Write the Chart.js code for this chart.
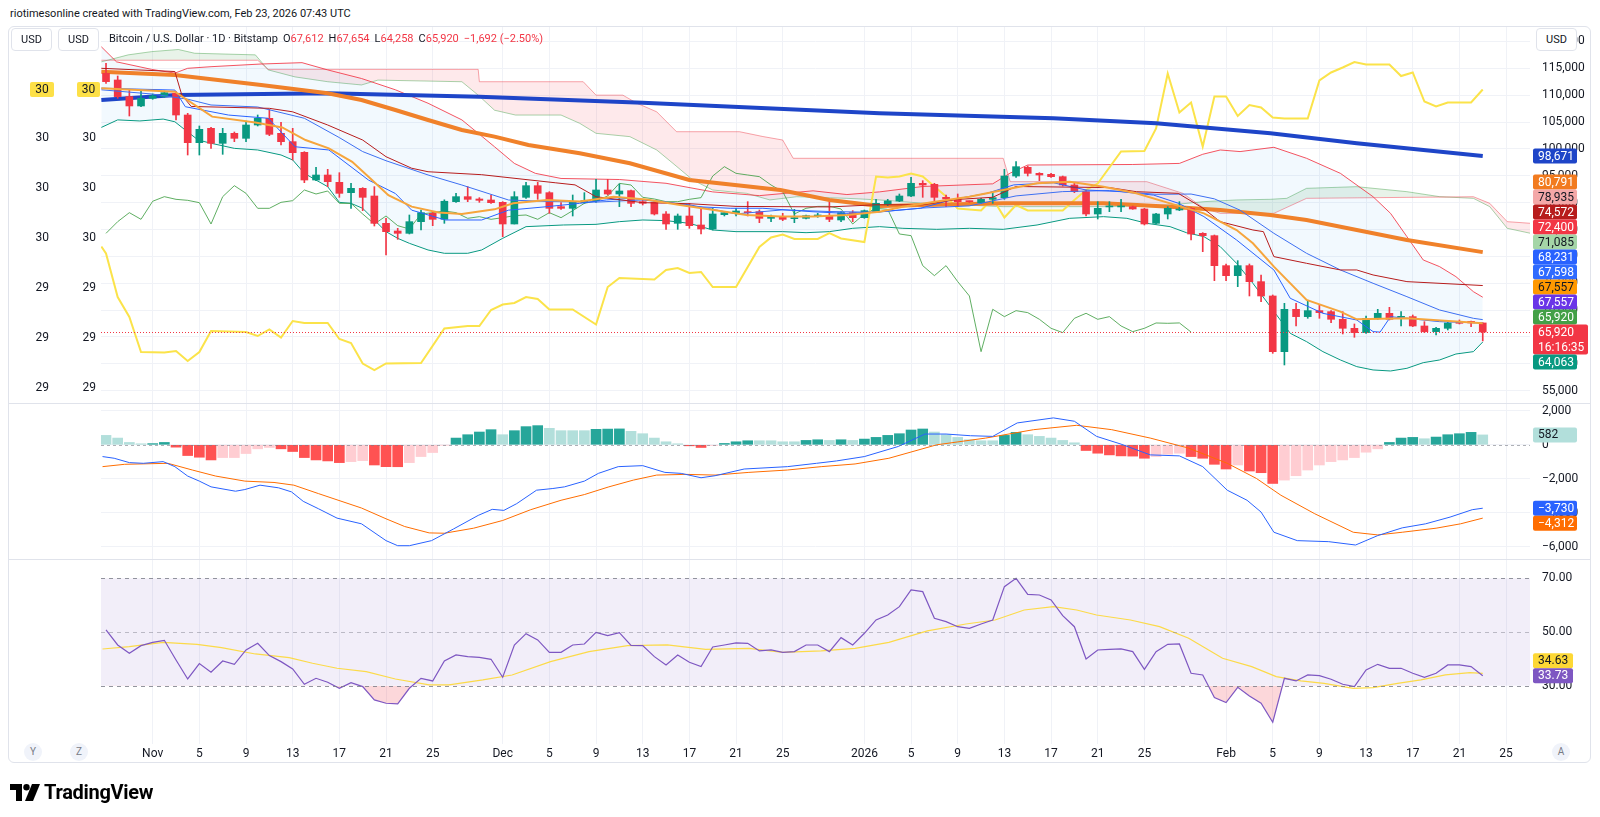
<!DOCTYPE html>
<html>
<head>
<meta charset="utf-8">
<title>Bitcoin / U.S. Dollar 1D</title>
<script src="https://cdn.jsdelivr.net/npm/chart.js@4.4.1/dist/chart.umd.min.js"></script>
<style>
  html, body { margin: 0; padding: 0; background: #fff; }
  body { width: 1600px; height: 817px; position: relative; overflow: hidden;
         font-family: Roboto, "Liberation Sans", Arial, sans-serif; color: #131722; }
  .frame { position: absolute; left: 8px; top: 26px; width: 1583px; height: 737px;
           border: 1px solid #E0E3EB; border-radius: 6px; box-sizing: border-box; }
  canvas { position: absolute; left: 0; }
  #priceCanvas { top: 27px; }
  #macdCanvas { top: 403px; }
  #rsiCanvas { top: 559px; }
  .sep { position: absolute; left: 9px; width: 1581px; height: 1px; background: #E0E3EB; }
  .header { position: absolute; left: 10px; top: 7px; font-size: 11px; }
  .usd { position: absolute; top: 28px; height: 23px; width: 41px; border: 1px solid #E0E3EB; border-radius: 4px;
         background: #fff; font-size: 11px; line-height: 21px; text-align: center; box-sizing: border-box; }
  .legend { position: absolute; left: 109px; top: 32px; font-size: 11px; white-space: nowrap; }
  .legend .v { color: #F23645; }
  .legend span { margin-left: 5px; }
  .btn { position: absolute; top: 743px; width: 18px; height: 18px; border-radius: 50%; background: #F0F3FA;
         color: #787B86; font-size: 10px; line-height: 18px; text-align: center; }
  .logo { position: absolute; left: 10px; top: 780px; display: flex; align-items: center; gap: 4px;
          font-size: 20px; font-weight: 700; letter-spacing: -0.3px; color: #000; }
</style>
</head>
<body>
<div class="frame"></div>
<canvas id="priceCanvas" width="1600" height="376"></canvas>
<canvas id="macdCanvas" width="1600" height="156"></canvas>
<canvas id="rsiCanvas" width="1600" height="205"></canvas>
<div class="sep" style="top:403px"></div>
<div class="sep" style="top:559px"></div>

<div class="header">riotimesonline created with TradingView.com, Feb 23, 2026 07:43 UTC</div>
<div class="usd" style="left:11px">USD</div>
<div class="usd" style="left:58px">USD</div>
<div class="usd" style="left:1536px">USD</div>
<div class="legend" id="legend"></div>
<div class="btn" style="left:24px">Y</div>
<div class="btn" style="left:70px">Z</div>
<div class="btn" style="left:1552px">A</div>
<div class="logo">
  <svg width="30" height="17" viewBox="0 0 30 17"><path d="M0 0h12v17H6V6H0z" fill="#000"/><circle cx="16.5" cy="3.2" r="3.2" fill="#000"/><path d="M22 0h8l-7 17h-8z" fill="#000"/></svg>
  <span>TradingView</span>
</div>

<script>
// ---------- data (day index 0 = Oct 28, 2025; 118 = Feb 23, 2026) ----------
const opens = [114067,112827,109727,107991,109417,109727,110343,106309,101161,103829,
  101037,102898,101968,104449,105690,102898,101347,99362,94211,95141,
  93776,91856,92661,91236,86149,84722,84288,86459,88010,86894,
  90181,91112,90677,90490,90057,86026,90988,93156,91856,89251,
  88941,89996,90367,92352,91608,92228,90181,90057,87886,86149,
  87514,85839,85095,87762,88010,88320,88320,87080,87390,87018,
  87080,87514,87576,86770,88134,87204,88320,89686,90306,91236,
  93590,93404,90988,90802,90306,89996,90615,90925,94955,96568,
  95451,95265,94832,93280,92042,87886,89200,89200,89251,88817,
  86149,87886,88630,88941,84288,83855,78273,76412,78273,75296,
  72629,62268,70148,68784,69900,69714,68288,66613,65807,68474,
  69404,68660,68784,67046,65992,66613,67852,67900,67612];
const highs = [115927,113571,110963,110963,110219,110777,110653,106619,104263,104015,
  103829,103147,105193,106310,107365,104945,103829,99486,96568,96196,
  95575,93590,92786,92972,87080,85219,87700,88630,88320,90522,
  91732,92972,90925,91422,90181,92042,93776,93776,92042,89996,
  91422,91856,94335,94335,93466,92352,90492,90181,88320,87886,
  89872,88941,88941,88320,88941,90181,88630,87700,88010,88754,
  87700,88010,90057,88320,88506,88630,90615,90615,91608,94707,
  94087,93590,91422,91608,90306,90802,92042,96196,97626,96817,
  95575,95451,94955,93590,92352,90181,90181,90615,89375,88941,
  88010,89251,90181,89065,84412,83979,78583,79203,78583,76536,
  72815,71265,71265,71761,70954,69900,69714,67418,68908,70148,
  70520,69714,69094,67852,66799,67728,68164,67950,67654];
const lows = [112207,109417,106123,107867,109230,109603,105379,98866,98866,100107,
  98990,101347,101347,104263,102464,100727,97936,93714,94087,92975,
  90988,88941,88508,85653,80258,83172,84164,84908,85715,86149,
  90057,90181,90057,89874,83669,86026,90802,90615,88010,88755,
  87514,89872,90057,91422,89251,89251,89561,87700,85033,85033,
  85219,84164,84908,87514,87514,87514,86273,86459,86645,86273,
  86956,87266,86459,86459,86459,87080,88134,89438,90181,91112,
  90988,90181,89251,89251,90057,89872,89872,90615,94707,94955,
  94087,94707,93094,91856,87514,86956,88320,88320,88755,85839,
  86026,86956,88506,83048,80878,75482,75482,74366,72629,71575,
  61958,59788,67046,68474,68474,67666,65559,64938,65683,68288,
  68164,67046,66923,65807,65373,66303,67418,66923,64258];
const closes = [112517,109727,107991,109417,109850,110467,106309,101161,103643,101037,
  102898,101968,104449,105690,102712,101347,99300,94211,95141,93900,
  91732,92661,90988,86149,84598,84288,86459,88134,86894,90255,
  91112,90615,90430,89992,86026,91112,93156,91732,88941,88941,
  90057,90367,92352,91608,92166,89872,89872,87886,86026,87514,
  85715,85095,87886,88134,88444,88134,87080,87390,86894,87204,
  87576,87700,86894,88134,87204,88506,89872,90306,91236,93590,
  93280,90988,90677,90181,90181,90615,90925,94955,96693,95451,
  95141,94832,93280,92042,87886,88941,89300,89320,88817,86026,
  87886,88941,88754,84164,83855,78273,76412,78273,75296,72629,
  62268,70148,68784,69900,69528,68288,66613,65807,68474,69404,
  68288,68784,67046,65992,66613,67604,67542,67612,65920];

// Ichimoku lagging span, days 0..93
const laggingSpan = [84288,86459,88134,86894,90255,91112,90615,90430,89992,86026,
  91112,93156,91732,88941,88941,90057,90367,92352,91608,92166,
  89872,89872,87886,86026,87514,85715,85095,87886,88134,88444,
  88134,87080,87390,86894,87204,87576,87700,86894,88134,87204,
  88506,89872,90306,91236,93590,93280,90988,90677,90181,90181,
  90615,90925,94955,96693,95451,95141,94832,93280,92042,87886,
  88941,89300,89320,88817,86026,87886,88941,88754,84164,83855,
  78273,76412,78273,75296,72629,62268,70148,68784,69900,69528,
  68288,66613,65807,68474,69404,68288,68784,67046,65992,66613,
  67604,67542,67612,65920];

// [day, value] readings of the overlay lines
const ema200 = [[-0.4,109100],[6,110030],[19,110340],[32,109720],[46,108600],[66.3,106620],[81.2,105690],[90,104760],[99.8,102900],[107.2,101040],[118,98671]];
const ema50 = [[-0.4,114370],[5.9,113750],[13.3,111890],[19,110340],[21.9,109100],[24.8,107240],[27.6,105380],[30.5,103520],[33.3,102280],[36.2,100730],[40.6,99180],[44.9,97320],[50,94210],[57.8,92350],[62,90490],[66.3,89380],[76.9,89870],[85.5,89870],[91.2,89250],[95.5,88630],[99.8,87700],[102.9,86770],[111.5,83050],[118,80791]];
const emaFast = [[-0.4,111300],[5.9,110650],[9.1,106000],[12.8,104900],[15.1,104000],[17.1,101650],[19.1,100100],[21.1,97600],[22.8,94200],[24.2,91400],[26.2,89250],[28.5,88150],[30.5,87900],[33.3,88750],[34.9,89870],[37.8,90500],[40.6,90200],[43.5,91100],[46.3,90600],[49.2,89550],[52.1,88650],[54.9,87700],[57.8,87400],[60.6,87400],[63.5,87700],[66.3,88300],[68.3,89250],[71.2,90200],[74,91100],[76.9,92350],[79.8,93600],[82.6,93900],[85.5,92970],[88.3,91730],[91.2,89870],[94.1,88000],[95.5,86460],[96.9,84900],[98.3,82430],[100.1,78090],[102.9,71880],[105.8,69710],[107.2,68290],[111.5,68480],[118,67557]];
const tenkan = [[-0.4,111300],[5.9,110950],[6.8,107850],[10.5,106300],[13.9,105700],[16.2,100400],[19.1,99800],[22.5,94200],[24.8,91700],[26.2,88600],[29.1,86770],[32.2,86770],[34.5,88600],[37.8,89250],[40.6,89870],[42.9,90500],[44.9,90800],[47.7,90200],[50.6,89250],[53.5,88950],[56.3,88950],[60.6,88300],[63.5,88000],[66.3,88300],[69.8,88950],[72.6,90600],[75.5,91730],[77.8,93300],[81.2,93700],[84,92350],[86.9,92050],[89.8,91400],[91.9,89900],[94.1,87400],[96.9,83050],[100.1,77470],[101.5,72200],[104.3,69400],[107.2,68160],[108.6,66000],[109.2,65900],[110.1,68780],[114.3,67850],[118,67598]];
const kijun = [[-0.4,115000],[5.9,114400],[6.5,110000],[7.3,107900],[14,107550],[16,106900],[19,104450],[22,101650],[24,98550],[26.2,96400],[27.6,95750],[32.2,95200],[38.5,93700],[40.2,93300],[42,91100],[46,90000],[50,89800],[54,89300],[62,89200],[66,89600],[70,89600],[73,90600],[76,91000],[78,93000],[86,92800],[88.3,92040],[91.9,91730],[94,89000],[95.5,86460],[98.3,84910],[99.2,84600],[100.1,79950],[102.9,78710],[105.8,77470],[107.2,77470],[108.6,76540],[111.5,75300],[118,74572]];
const bbUpper = [[-0.4,119000],[0.9,116200],[3.9,114800],[5.9,114100],[7,115000],[9,115300],[13.3,115800],[16.8,116050],[19,114700],[21.9,113100],[24.8,111000],[27.6,108500],[30.5,105400],[33.3,100400],[35,97300],[36.8,95450],[39,94500],[44,94300],[48,93600],[52,92000],[56,91300],[60.6,92200],[63.5,91500],[66.3,92000],[70,93000],[76,93500],[77.5,95500],[79,97000],[88,97100],[92,97300],[94,99000],[95.5,99800],[97.2,99500],[100.1,100300],[102.9,98250],[105.8,95450],[108.6,91100],[110.1,88000],[111.5,83670],[112.9,79330],[114.3,78090],[115.7,76230],[117.2,73430],[118,72400]];
const bbBasis = [[-0.4,111000],[4,110200],[7,109250],[9,108170],[13,107800],[17,105700],[20,102100],[22,99500],[24,97800],[27.6,95150],[30.5,93280],[34.5,90490],[38,90200],[42,90100],[46,90500],[50,89600],[54,87900],[58,88650],[62,88350],[66,88200],[70,89000],[74,89400],[78,91250],[82,92050],[86,92250],[90,91550],[93,91600],[95,90700],[97.2,88600],[100.1,84290],[102.9,80570],[105.8,77470],[108.6,74990],[111.5,72500],[114.3,70020],[117.2,68470],[118,68231]];
const bbLower = [[-0.4,104000],[1,105400],[2.9,105200],[4.9,105550],[5.9,105050],[6.8,103500],[7.9,101650],[9,101050],[11,100100],[13,99800],[15,98870],[16,97940],[17,95450],[18,94200],[19,92970],[20,90050],[21,89870],[22,88940],[23,86770],[24,84600],[25,83360],[26,82430],[27.6,81190],[29,80570],[31,80570],[32.2,81190],[34,83360],[36,85530],[39.2,85840],[42,85960],[44,86460],[46,86770],[48,86650],[50,86150],[52,84910],[54,84600],[58,84600],[60,84410],[62,84600],[64,85220],[66.3,85530],[68.3,85220],[71.2,85030],[74,85220],[76.9,85030],[79.8,85840],[82.6,87080],[85.5,87390],[87.5,87080],[89.2,86150],[91.2,85530],[92.6,84410],[94.1,83670],[95.5,81810],[96.9,78710],[98.3,74990],[99.8,70640],[101.5,65680],[102.9,64130],[104.3,62270],[105.8,60720],[107.2,59480],[108.6,58860],[110.1,58670],[111.5,59170],[112.9,60220],[114.3,60720],[115.7,61830],[117.2,62270],[118,64063]];
const spanA = [[-0.4,116200],[1.9,117500],[3.9,118100],[6.2,118500],[7.6,117800],[12.8,117500],[13.9,114700],[16.2,113400],[19,112500],[21.9,111900],[23.3,112800],[30.5,112500],[31.9,110000],[33.3,107200],[35.1,106300],[39,106300],[40.6,104760],[42,102900],[44.9,102280],[47.2,99800],[48.6,97300],[50.3,94200],[52,92350],[54.9,91730],[56.9,90500],[59.2,91100],[63.5,90800],[66.3,90500],[70,89900],[76.9,89250],[85.5,89250],[91.2,89560],[94.1,90180],[96.9,90500],[99.8,90620],[101.2,90800],[102.9,92660],[107.2,92970],[111.5,92040],[114.3,91110],[117.2,90800],[118.6,89250],[120.1,85220],[122.1,84290]];
const spanB = [[-0.4,116500],[13,116500],[13.9,114800],[31.9,114800],[32,112500],[40.9,112500],[42,110000],[44.3,110000],[45.5,108500],[47.2,106900],[48.9,103200],[54.3,103200],[56.3,102300],[58,101650],[58.9,98250],[76.9,98250],[77.5,93900],[89.2,93900],[92.3,91730],[94.1,88940],[95.5,88010],[100.1,88010],[102.9,90800],[117.2,91100],[118.6,89870],[120.1,86460],[122.1,86150]];
// overlay on the left scale
const leftOverlay = [[-0.4,29.983],[0,29.969],[1,29.882],[2,29.842],[3,29.772],[5,29.771],[6,29.774],[7,29.754],[8,29.772],[9,29.814],[12,29.812],[13,29.804],[14,29.817],[15,29.801],[16,29.834],[17,29.830],[19,29.830],[20,29.798],[21,29.790],[22,29.749],[23,29.736],[24,29.749],[27,29.750],[29,29.819],[31,29.824],[32,29.824],[33,29.856],[34,29.867],[35,29.870],[36,29.882],[37,29.878],[38,29.857],[40,29.857],[42,29.827],[43,29.902],[44,29.920],[47,29.917],[48,29.936],[49,29.940],[50,29.930],[51,29.932],[52,29.902],[54,29.902],[56,29.982],[57,30.001],[58,30.007],[59,29.998],[61,29.998],[62,30.010],[63,29.999],[65,29.992],[66,30.123],[67,30.121],[68,30.123],[69,30.129],[70,30.123],[71,30.103],[72,30.083],[73,30.059],[75,30.055],[76,30.079],[77,30.041],[78,30.066],[79,30.055],[82,30.055],[83,30.076],[84,30.096],[85,30.109],[87,30.173],[89,30.174],[90,30.219],[91,30.329],[92,30.251],[93,30.271],[94,30.183],[95,30.283],[96,30.283],[97,30.244],[98,30.266],[99,30.261],[100,30.241],[101,30.239],[103,30.239],[104,30.315],[105,30.331],[106,30.341],[107,30.352],[108,30.347],[110,30.347],[111,30.324],[112,30.331],[113,30.273],[114,30.263],[115,30.271],[117,30.271],[118,30.297]];

// MACD
const macdHist = [554,396,139,60,70,139,-138,-632,-731,-890,
  -751,-751,-514,-237,-158,-237,-395,-751,-890,-949,
  -1048,-989,-929,-1187,-1285,-1290,-1048,-692,-455,-20,
  396,594,752,890,594,831,1069,1128,970,831,
  831,831,910,925,935,792,653,396,178,60,
  -59,-158,-40,80,178,238,238,238,178,178,
  258,297,258,297,258,337,436,554,653,871,
  930,752,594,436,297,238,238,554,732,594,
  495,396,258,119,-336,-494,-593,-652,-665,-791,
  -692,-553,-494,-692,-791,-1147,-1424,-1187,-1543,-1641,
  -2274,-2076,-1819,-1483,-1187,-989,-890,-751,-435,-237,
  139,396,436,356,455,594,653,732,582];
const macdLine = [[-0.3,-692],[0.7,-791],[2,-1048],[3.2,-1088],[4.9,-989],[5.9,-1285],[7,-1839],[8,-2136],[9,-2473],[11.1,-2730],[11.9,-2631],[13.2,-2374],[14.8,-2532],[15.9,-2770],[16.9,-3323],[18.2,-3758],[19.8,-4312],[21.9,-4648],[24,-5637],[25,-5934],[26,-5934],[27.9,-5637],[29.8,-4945],[31.9,-4153],[33.1,-3797],[34.1,-3857],[35.2,-3461],[36.9,-2670],[38.3,-2571],[39.3,-2473],[41,-2136],[42.2,-1681],[43.9,-1285],[46,-1226],[47.9,-1622],[49.3,-1681],[51,-1938],[52.2,-1819],[54.7,-1424],[58.4,-1285],[60.9,-1088],[62.6,-949],[65,-692],[67.9,-99],[70.2,633],[72,633],[74.1,534],[76,495],[78.1,1286],[81.2,1583],[83,1385],[84.9,495],[87,40],[89.5,-593],[92,-652],[94,-1285],[96.1,-2670],[97.8,-3263],[99,-3956],[100.1,-5143],[102.1,-5637],[104.8,-5697],[107.1,-5894],[109,-5340],[111.1,-4885],[113.1,-4648],[115.2,-4252],[117.1,-3817],[118,-3730]];
const macdSignal = [[-0.3,-1285],[1.6,-1147],[5.3,-1088],[7.4,-1483],[9.4,-1839],[11.9,-2136],[14.4,-2215],[16.1,-2374],[18.2,-2868],[21.9,-3719],[24,-4352],[25.6,-4807],[27.7,-5182],[29,-5202],[31.5,-4906],[34,-4451],[36.4,-3817],[39,-3263],[41,-2927],[43.1,-2473],[45.2,-2076],[47.2,-1780],[49.7,-1740],[52.2,-1780],[55.1,-1622],[58.4,-1483],[61.3,-1285],[64.2,-1127],[67.1,-791],[71.2,0],[75.4,396],[79.5,890],[83.2,1148],[86.2,890],[89.5,396],[92.8,-197],[96.1,-1088],[98.6,-1978],[100.7,-2967],[103.6,-4055],[106.9,-5143],[109,-5301],[111.1,-5143],[114,-4905],[116.1,-4648],[118,-4312]];

// RSI
const rsi = [50.75,45.17,42.07,44.92,46.16,46.91,39.59,32.51,38.22,35.0,
  39.2,37.97,43.31,45.79,41.2,38.97,36.24,30.53,32.76,31.27,
  29.04,31.15,29.66,24.7,23.46,23.21,29.04,32.76,31.77,39.2,
  41.45,40.83,40.58,39.84,33.14,45.17,49.39,47.04,42.44,42.44,
  45.17,45.54,49.89,48.65,49.76,45.05,44.92,40.83,37.73,41.45,
  38.72,37.11,44.43,45.17,45.92,45.79,42.94,43.31,42.44,42.69,
  45.17,45.17,42.69,47.9,45.17,49.52,54.48,56.34,59.44,65.65,
  65.03,55.1,53.86,51.98,51.38,52.99,54.48,66.89,70.0,64.04,
  63.79,61.93,56.09,51.98,39.96,43.31,43.56,43.68,42.69,36.11,
  42.69,45.42,45.54,34.62,34.0,25.57,23.7,29.41,26.19,23.46,
  16.38,32.76,31.77,34.0,33.76,32.39,30.53,29.66,35.87,37.97,
  36.49,36.49,34.62,33.14,34.62,37.73,37.73,37.11,33.73];
const rsiMa = [[-0.3,43.68],[2,44.55],[4.9,46.16],[7.8,45.42],[9.9,44.18],[12.8,41.82],[15.7,40.46],[17.7,38.35],[19.8,36.49],[22.3,35.25],[24.8,32.51],[27.7,30.28],[29.4,30.28],[32.3,32.14],[34.8,34.0],[38.1,38.97],[41.4,42.69],[44.7,44.92],[48.1,45.17],[51.4,43.56],[55.1,43.93],[58,42.44],[61.3,42.94],[64.2,43.93],[67.1,46.16],[70.4,50.39],[73.7,52.99],[76.2,54.48],[78.7,58.2],[81.2,59.44],[83.2,58.2],[84.9,56.34],[87.8,54.48],[90.3,51.98],[92.8,47.65],[95.7,40.21],[98.2,37.11],[100.3,33.38],[102.4,31.77],[104.4,30.9],[106.9,29.04],[108.6,29.29],[110.7,30.9],[112.7,32.14],[114.8,34.0],[116.9,34.87],[118,34.63]];

// axis ticks and labels
const dateTickDays = [4,8,12,16,20,24,28,34,38,42,46,50,54,58,65,69,73,77,81,85,89,96,100,104,108,112,116,120];
const dateTickLabels = ['Nov','5','9','13','17','21','25','Dec','5','9','13','17','21','25','2026','5','9','13','17','21','25','Feb','5','9','13','17','21','25'];
const priceTicks = [55000,60000,65000,70000,75000,80000,85000,90000,95000,100000,105000,110000,115000,120000];
const leftTicks = [30.3,30.2,30.1,30.0,29.9,29.8,29.7];
const macdTicks = [2000,0,-2000,-4000,-6000];
const rsiTicks = [70,50,30];
const rsiLevels = [70,50,30];

// last values shown on the price scale
const priceTagValues = [98671,80791,78935,74572,72400,71085,68231,67598,67557,67557,65920,65920,64063];
const priceTagExtra = [null,null,null,null,null,null,null,null,null,null,null,'16:16:35',null];
const macdTagValues = [582,-3730,-4312];
const rsiTagValues = [34.63,33.73];

// ---------- styles ----------
const FONT = 'Roboto, "Liberation Sans", Arial, sans-serif';
const TXT = '#131722';
const GRID = '#F0F2F7';
const UP = '#089981', DOWN = '#F23645';
const priceTagBg = ['#1E45C8','#F27B1F','#F4A8A8','#B71C1C','#F23645','#A5D6A7','#2962FF','#2F6BFF','#FF9800','#6A35E8','#43A047','#F23645','#089981'];
const priceTagFg = ['#fff','#fff',TXT,'#fff','#fff',TXT,'#fff','#fff',TXT,'#fff','#fff','#fff','#fff'];

Chart.defaults.font.family = FONT;
Chart.defaults.font.size = 12;
Chart.defaults.color = TXT;

const X_MIN = -0.43, X_MAX = 122.05;
const pts = arr => arr.map(([x, y]) => ({x, y}));
const days = closes.map((_, i) => i);
const candleColors = days.map(i => closes[i] >= opens[i] ? UP : DOWN);
const minus = v => (v < 0 ? '\u2212' : '') + Math.abs(v).toLocaleString('en-US');

// legend text from last candle
(function () {
  const n = closes.length - 1;
  const chg = closes[n] - closes[n - 1];
  const pct = chg / closes[n - 1] * 100;
  const f = v => v.toLocaleString('en-US');
  document.getElementById('legend').innerHTML =
    'Bitcoin / U.S. Dollar \u00b7 1D \u00b7 Bitstamp' +
    '<span>O<b class="v" style="font-weight:400">' + f(opens[n]) + '</b></span>' +
    '<span>H<b class="v" style="font-weight:400">' + f(highs[n]) + '</b></span>' +
    '<span>L<b class="v" style="font-weight:400">' + f(lows[n]) + '</b></span>' +
    '<span>C<b class="v" style="font-weight:400">' + f(closes[n]) + '</b></span>' +
    '<span class="v">' + minus(chg) + ' (' + (pct < 0 ? '\u2212' : '+') + Math.abs(pct).toFixed(2) + '%)</span>';
})();

function widthFix(w) { return a => { a.width = w; a.paddingTop = 0; a.paddingBottom = 0; }; }
function heightFix(h) { return a => { a.height = h; a.paddingLeft = 0; a.paddingRight = 0; }; }

function xScale(showLabels) {
  return {
    type: 'linear', min: X_MIN, max: X_MAX, offset: false, bounds: 'data',
    grid: { color: GRID, drawTicks: false, offset: false },
    border: { display: false },
    ticks: {
      display: showLabels, autoSkip: false, maxRotation: 0, padding: 3, color: TXT, font: { size: 12 },
      callback: v => dateTickLabels[dateTickDays.indexOf(v)]
    },
    afterBuildTicks: a => { a.ticks = dateTickDays.map(v => ({ value: v })); },
    afterFit: heightFix(showLabels ? 20 : 0)
  };
}

function rightScale(min, max, ticks, fmt, grid) {
  return {
    position: 'right', min, max, bounds: 'data',
    grid: { display: grid, color: GRID, drawTicks: false },
    border: { display: false },
    ticks: { padding: 12, color: TXT, font: { size: 12 }, callback: fmt },
    afterBuildTicks: a => { a.ticks = ticks.map(v => ({ value: v })); },
    afterFit: widthFix(70)
  };
}

// tags on the axes, stacked like the platform does
const axisTags = {
  id: 'axisTags',
  afterDraw(chart, args, opts) {
    const ctx = chart.ctx;
    (opts.groups || []).forEach(g => {
      const sc = chart.scales[g.scale];
      const H = 15;
      const tags = g.values.map((v, k) => ({
        y: sc.getPixelForValue(v),
        lines: [g.format(v)].concat(g.extra && g.extra[k] ? [g.extra[k]] : []),
        bg: g.bg[k], fg: g.fg[k]
      }));
      tags.forEach(t => { t.h = H * t.lines.length; });
      const a = g.anchor;
      tags[a].top = tags[a].y - H / 2;
      for (let k = a - 1; k >= 0; k--) tags[k].top = Math.min(tags[k].y - H / 2, tags[k + 1].top - tags[k].h);
      for (let k = a + 1; k < tags.length; k++) tags[k].top = Math.max(tags[k].y - H / 2, tags[k - 1].top + tags[k - 1].h);
      ctx.save();
      ctx.font = '12px ' + FONT;
      ctx.textBaseline = 'middle';
      tags.forEach(t => {
        const w = t.lines.length > 1 ? g.w + 11 : g.w;
        ctx.fillStyle = t.bg;
        ctx.beginPath();
        ctx.roundRect(g.x, t.top, w, t.h, 2);
        ctx.fill();
        ctx.fillStyle = t.fg;
        ctx.textAlign = g.center ? 'center' : 'left';
        t.lines.forEach((s, j) => ctx.fillText(s, g.center ? g.x + w / 2 : g.x + 5, t.top + H / 2 + j * H + 0.5));
      });
      ctx.restore();
    });
  }
};

// horizontal guides (bands and dashed levels)
const guides = {
  id: 'guides',
  beforeDatasetsDraw(chart, args, opts) {
    if (!opts.band) return;
    const { ctx, chartArea: ca } = chart;
    const sc = chart.scales[opts.scale];
    const y1 = sc.getPixelForValue(opts.band[0]), y2 = sc.getPixelForValue(opts.band[1]);
    ctx.save();
    ctx.fillStyle = opts.bandColor;
    ctx.fillRect(ca.left, y1, ca.right - ca.left, y2 - y1);
    ctx.restore();
  },
  afterDatasetsDraw(chart, args, opts) {
    const { ctx, chartArea: ca } = chart;
    const sc = chart.scales[opts.scale];
    (opts.lines || []).forEach(l => {
      const y = Math.round(sc.getPixelForValue(l.value)) + 0.5;
      ctx.save();
      ctx.strokeStyle = l.color;
      ctx.lineWidth = 1;
      ctx.setLineDash(l.dash);
      ctx.beginPath();
      ctx.moveTo(ca.left, y);
      ctx.lineTo(ca.right, y);
      ctx.stroke();
      ctx.restore();
    });
  }
};

const base = {
  responsive: false, animation: false, devicePixelRatio: 1, events: [],
  layout: { padding: 0 },
};
const line = (data, color, width, order, extra) => Object.assign({
  type: 'line', data: pts(data), borderColor: color, borderWidth: width,
  pointRadius: 0, tension: 0, fill: false, order
}, extra || {});

// ---------- price pane ----------
new Chart(document.getElementById('priceCanvas'), {
  type: 'bar',
  data: {
    datasets: [
      line(spanA, 'rgba(67,160,71,0.45)', 1, 30, { fill: { target: '+1', above: 'rgba(67,160,71,0.12)', below: 'rgba(242,54,69,0.11)' } }),
      line(spanB, 'rgba(242,54,69,0.45)', 1, 29),
      line(bbUpper, 'rgba(242,54,69,0.85)', 1, 28, { fill: { target: '+1', above: 'rgba(33,150,243,0.06)', below: 'rgba(33,150,243,0.06)' } }),
      line(bbLower, '#089981', 1, 27),
      line(laggingSpan.map((v, i) => [i, v]), 'rgba(67,160,71,0.85)', 1, 26),
      line(leftOverlay, '#FBE34A', 2, 25, { yAxisID: 'yl2' }),
      line(ema200, '#1E45C8', 4, 24),
      line(ema50, '#F0812A', 4, 23),
      {
        type: 'bar', data: days.map(i => ({ x: i, y: [lows[i], highs[i]] })),
        backgroundColor: candleColors, barThickness: 1, grouped: false, order: 12
      },
      {
        type: 'bar', data: days.map(i => ({ x: i, y: [opens[i], closes[i]] })),
        backgroundColor: candleColors, barThickness: 7, minBarLength: 1, grouped: false, order: 11
      },
      line(bbBasis, '#3D6FF2', 1, 6),
      line(tenkan, '#2962FF', 1, 5),
      line(kijun, '#B71C1C', 1, 4),
      line(emaFast, '#F6A53C', 2, 3),
    ]
  },
  options: Object.assign({}, base, {
    plugins: {
      legend: { display: false }, tooltip: { enabled: false },
      guides: { scale: 'y', lines: [{ value: closes[closes.length - 1], color: '#F23645', dash: [1, 2] }] },
      axisTags: {
        groups: [
          { scale: 'y', values: priceTagValues, extra: priceTagExtra, bg: priceTagBg, fg: priceTagFg, anchor: 11, x: 1533, w: 44,
            format: v => v.toLocaleString('en-US') },
          { scale: 'yl1', values: [leftOverlay[leftOverlay.length - 1][1]], bg: ['#FDE047'], fg: [TXT], anchor: 0, x: 30, w: 24, center: true,
            format: v => String(Math.floor(v)) },
          { scale: 'yl2', values: [leftOverlay[leftOverlay.length - 1][1]], bg: ['#FDE047'], fg: [TXT], anchor: 0, x: 77, w: 23, center: true,
            format: v => String(Math.floor(v)) }
        ]
      }
    },
    scales: {
      x: xScale(false),
      y: rightScale(52712, 122686, priceTicks, v => v.toLocaleString('en-US'), true),
      yl1: {
        position: 'left', weight: 1, min: 29.67, max: 30.422, bounds: 'data',
        grid: { display: false, drawTicks: false }, border: { display: false },
        ticks: { padding: 18, color: TXT, callback: v => String(Math.floor(v + 1e-6)) },
        afterBuildTicks: a => { a.ticks = leftTicks.map(v => ({ value: v })); },
        afterFit: widthFix(67)
      },
      yl2: {
        position: 'left', weight: 0, min: 29.67, max: 30.422, bounds: 'data',
        grid: { display: false, drawTicks: false }, border: { display: false },
        ticks: { padding: 5, color: TXT, callback: v => String(Math.floor(v + 1e-6)) },
        afterBuildTicks: a => { a.ticks = leftTicks.map(v => ({ value: v })); },
        afterFit: widthFix(34)
      }
    }
  }),
  plugins: [guides, axisTags]
});

// ---------- MACD pane ----------
const histColors = macdHist.map((h, i) => {
  const prev = i > 0 ? macdHist[i - 1] : h;
  if (h >= 0) return h > prev ? '#26A69A' : '#B2DFDB';
  return h < prev ? '#FF5252' : '#FFCDD2';
});
new Chart(document.getElementById('macdCanvas'), {
  type: 'bar',
  data: {
    datasets: [
      { type: 'bar', data: days.map(i => ({ x: i, y: macdHist[i] })), backgroundColor: histColors, barThickness: 10, grouped: false, order: 5 },
      line(macdSignal, '#FF6D00', 1, 2),
      line(macdLine, '#2962FF', 1, 1),
    ]
  },
  options: Object.assign({}, base, {
    layout: { padding: { left: 101 } },
    plugins: {
      legend: { display: false }, tooltip: { enabled: false },
      guides: { scale: 'y', lines: [{ value: 0, color: 'rgba(120,123,134,0.6)', dash: [3, 3] }] },
      axisTags: {
        groups: [{ scale: 'y', values: macdTagValues, bg: ['#B2DFDB', '#2962FF', '#FF6D00'], fg: [TXT, '#fff', '#fff'],
          anchor: 1, x: 1533, w: 44, format: minus }]
      }
    },
    scales: {
      x: xScale(false),
      y: rightScale(-6717, 2459, macdTicks, minus, true)
    }
  }),
  plugins: [guides, axisTags]
});

// ---------- RSI pane ----------
new Chart(document.getElementById('rsiCanvas'), {
  type: 'line',
  data: {
    datasets: [
      line(rsiMa, 'rgba(253,216,53,0.9)', 1.2, 2),
      {
        type: 'line', data: days.map(i => ({ x: i, y: rsi[i] })), borderColor: '#7E57C2', borderWidth: 1.2,
        pointRadius: 0, tension: 0, order: 1,
        fill: { target: { value: 30 }, above: 'rgba(0,0,0,0)', below: 'rgba(242,54,69,0.2)' }
      }
    ]
  },
  options: Object.assign({}, base, {
    layout: { padding: { left: 101 } },
    plugins: {
      legend: { display: false }, tooltip: { enabled: false },
      guides: {
        scale: 'y', band: [70, 30], bandColor: 'rgba(126,87,194,0.1)',
        lines: rsiLevels.map(v => ({ value: v, color: v === 50 ? 'rgba(120,123,134,0.45)' : 'rgba(120,123,134,0.8)', dash: [4, 4] }))
      },
      axisTags: {
        groups: [{ scale: 'y', values: rsiTagValues, bg: ['#FDD835', '#7E57C2'], fg: [TXT, '#fff'],
          anchor: 1, x: 1533, w: 40, format: v => v.toFixed(2) }]
      }
    },
    scales: {
      x: xScale(true),
      y: rightScale(8.29, 77.19, rsiTicks, v => v.toFixed(2), false)
    }
  }),
  plugins: [guides, axisTags]
});
</script>
</body>
</html>
